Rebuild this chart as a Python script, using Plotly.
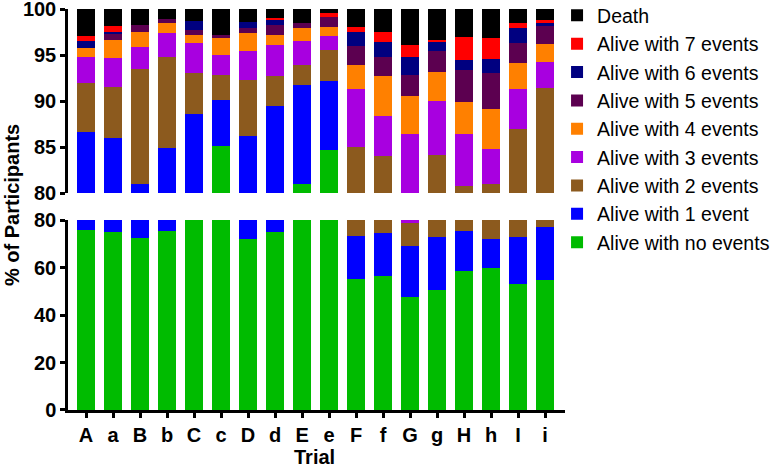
import plotly.graph_objects as go

trials = ["A", "a", "B", "b", "C", "c", "D", "d", "E", "e",
          "F", "f", "G", "g", "H", "h", "I", "i"]

no_events = [75.9, 74.9, 72.5, 75.5, 80.0, 85.14, 72.0, 74.9, 80.94, 84.71,
             55.0, 56.3, 47.5, 50.5, 58.7, 59.9, 53.2, 54.9]
one_event = [10.7, 11.1, 8.5, 9.43, 8.59, 4.97, 14.2, 14.59, 10.84, 7.46,
             18.3, 18.4, 21.55, 22.5, 16.8, 12.0, 19.6, 22.3]
two_events = [5.4, 5.56, 12.48, 9.85, 4.49, 2.68, 6.08, 3.19, 2.13, 3.37,
              11.7, 9.36, 9.85, 11.17, 5.3, 9.11, 14.16, 14.25]
three_events = [2.8, 3.15, 2.39, 2.61, 3.26, 2.21, 3.19, 3.41, 2.58, 1.56,
                6.27, 4.31, 7.48, 5.83, 5.58, 3.81, 4.31, 2.83]
four_events = [1.0, 1.88, 1.63, 1.12, 0.87, 1.81, 1.96, 1.05, 1.48, 0.98,
               2.64, 4.31, 4.16, 3.19, 3.55, 4.35, 2.82, 1.92]
five_events = [0.0, 0.66, 0.76, 0.37, 0.51, 0.4, 0.5, 1.12, 0.47, 1.05,
               2.1, 2.1, 2.32, 2.21, 3.48, 3.83, 2.21, 1.92]
six_events = [0.76, 0.25, 0.0, 0.0, 0.94, 0.0, 0.69, 0.54, 0.0, 0.0,
              1.49, 1.63, 1.92, 1.05, 1.01, 1.57, 1.6, 0.39]
seven_events = [0.54, 0.69, 0.0, 0.0, 0.0, 0.0, 0.0, 0.26, 0.0, 0.47,
                0.5, 1.09, 1.34, 0.22, 2.5, 2.24, 0.61, 0.26]
death = [2.9, 1.81, 1.74, 1.12, 1.34, 2.79, 1.38, 0.94, 1.56, 0.4,
         2.0, 2.5, 3.88, 3.33, 3.08, 3.19, 1.49, 1.23]

series = [
    ("Alive with no events", no_events, "#00BB00"),
    ("Alive with 1 event", one_event, "#0000FF"),
    ("Alive with 2 events", two_events, "#8C5A1E"),
    ("Alive with 3 events", three_events, "#A800E0"),
    ("Alive with 4 events", four_events, "#FF8000"),
    ("Alive with 5 events", five_events, "#5C0050"),
    ("Alive with 6 events", six_events, "#000080"),
    ("Alive with 7 events", seven_events, "#FF0000"),
    ("Death", death, "#000000"),
]

xpos = list(range(len(trials)))
FONT = "Liberation Sans, Arial, sans-serif"

fig = go.Figure()
n = len(series)
for k, (name, vals, col) in enumerate(series):
    for ax, show in (("y", True), ("y2", False)):
        fig.add_trace(go.Bar(
            x=xpos, y=vals, name=name, legendgroup=name, showlegend=show,
            legendrank=n - k,
            marker=dict(color=col, line=dict(width=0)),
            width=0.68, xaxis="x", yaxis=ax,
        ))

axis_common = dict(showline=True, linecolor="black", linewidth=2.5,
                   ticks="outside", ticklen=5, tickwidth=2.5, tickcolor="black",
                   showgrid=False, zeroline=False, ticklabeloverflow="allow",
                   tickfont=dict(family=FONT, size=20, color="black", weight="bold"))

fig.update_layout(
    width=775, height=468,
    margin=dict(l=68, r=210, t=9, b=58, autoexpand=False),
    paper_bgcolor="white", plot_bgcolor="white",
    barmode="stack",
    xaxis=dict(anchor="y", range=[-0.67, 17.74], tickvals=xpos, ticktext=trials,
               **axis_common),
    yaxis=dict(domain=[0, 0.4738], range=[0, 80], tickvals=[0, 20, 40, 60, 80],
               anchor="x", **axis_common),
    yaxis2=dict(domain=[0.5411, 1], range=[80, 100],
                tickvals=[80, 85, 90, 95, 100], anchor="x", **axis_common),
    legend=dict(x=0.984, xanchor="left", y=1.032, yanchor="top",
                traceorder="grouped", tracegroupgap=0, maxheight=460,
                font=dict(family=FONT, size=19.5, color="black"),
                bgcolor="rgba(0,0,0,0)"),
    annotations=[
        dict(text="% of Participants", xref="paper", yref="paper",
             x=-0.1127, y=0.511, xanchor="center", yanchor="middle",
             textangle=-90, showarrow=False,
             font=dict(family=FONT, size=20, color="black", weight="bold")),
        dict(text="Trial", xref="paper", yref="paper",
             x=0.495, y=-0.117, xanchor="center", yanchor="middle",
             showarrow=False,
             font=dict(family=FONT, size=20, color="black", weight="bold")),
    ],
)

fig.write_html("out.html", config={"displayModeBar": False},
               post_script="document.body.style.margin='0';")
